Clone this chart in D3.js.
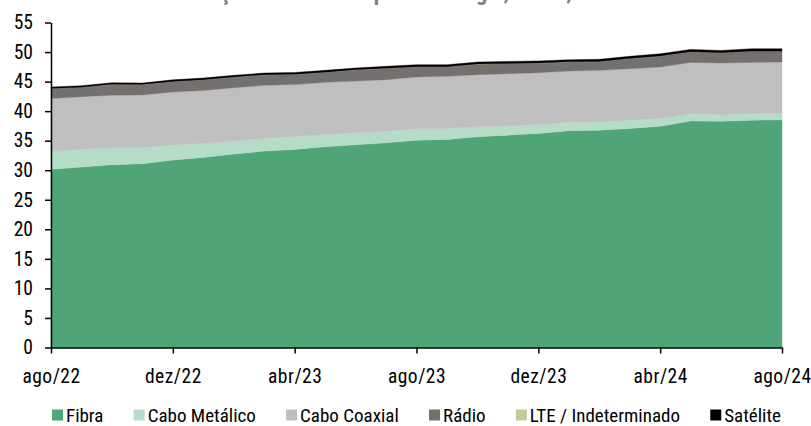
<!DOCTYPE html>
<html>
<head>
<meta charset="utf-8">
<script src="https://cdn.jsdelivr.net/npm/d3@7"></script>
<style>
  html, body { margin: 0; padding: 0; background: #fff; }
  svg { display: block; }
  text { font-family: "Roboto Condensed", "Liberation Sans Narrow", "DejaVu Sans Condensed", "Noto Sans", sans-serif; }
</style>
</head>
<body>
<svg id="chart" width="811" height="426"></svg>
<script>
const titleText = "Evolução dos acessos por tecnologia, Brasil, milhões";
const months = ["ago/22","set/22","out/22","nov/22","dez/22","jan/23","fev/23","mar/23","abr/23","mai/23","jun/23","jul/23","ago/23","set/23","out/23","nov/23","dez/23","jan/24","fev/24","mar/24","abr/24","mai/24","jun/24","jul/24","ago/24"];
const tickLabels = ["ago/22","dez/22","abr/23","ago/23","dez/23","abr/24","ago/24"];
const yTicks = [0,5,10,15,20,25,30,35,40,45,50,55];
const seriesNames = ["Fibra","Cabo Metálico","Cabo Coaxial","Rádio","LTE / Indeterminado","Satélite"];
const seriesColors = ["#4fa578","#b5dcc7","#bfbfbf","#757070","#c4c89b","#000000"];

const fibra    = [30.15,30.54,30.93,31.10,31.72,32.17,32.73,33.24,33.52,33.96,34.30,34.64,35.09,35.20,35.65,35.94,36.22,36.67,36.78,37.06,37.46,38.35,38.30,38.47,38.52];
const metalico = [3.05,3.03,2.87,2.75,2.53,2.36,2.20,2.19,2.18,2.09,2.03,1.97,1.91,1.86,1.69,1.57,1.51,1.46,1.35,1.41,1.29,1.25,1.07,1.13,1.13];
const coaxial  = [8.93,8.88,8.90,8.90,9.00,8.97,9.04,8.94,8.80,8.83,8.77,8.72,8.78,8.83,8.83,8.83,8.77,8.67,8.77,8.71,8.71,8.65,8.77,8.65,8.66];
const radio    = [1.70,1.58,1.82,1.72,1.76,1.80,1.79,1.77,1.73,1.70,1.87,1.91,1.73,1.62,1.77,1.71,1.63,1.52,1.48,1.70,1.85,1.79,1.72,1.88,1.81];
const lte      = [0.02,0.02,0.02,0.02,0.02,0.02,0.02,0.02,0.02,0.02,0.02,0.02,0.02,0.02,0.02,0.02,0.02,0.02,0.02,0.02,0.02,0.02,0.02,0.02,0.02];
const satelite = [0.25,0.25,0.26,0.26,0.27,0.28,0.28,0.29,0.30,0.30,0.31,0.32,0.33,0.33,0.34,0.35,0.35,0.36,0.36,0.37,0.38,0.39,0.40,0.41,0.42];

const seriesValues = [fibra, metalico, coaxial, radio, lte, satelite];
const table = months.map((m, i) => {
  const row = { month: m };
  seriesNames.forEach((s, k) => row[s] = seriesValues[k][i]);
  return row;
});

const svg = d3.select("#chart");
const x = d3.scalePoint().domain(months).range([51, 782]);
const y = d3.scaleLinear().domain([0, 55]).range([347.5, 22.5]);

const stack = d3.stack().keys(seriesNames);
const layers = stack(table);
const area = d3.area()
  .x(d => x(d.data.month))
  .y0(d => y(d[0]))
  .y1(d => y(d[1]));

svg.append("g").selectAll("path")
  .data(layers)
  .join("path")
  .attr("d", area)
  .attr("fill", (d, i) => seriesColors[i])
  .attr("stroke", (d, i) => seriesColors[i])
  .attr("stroke-width", 0.4);

const labelFont = "19.5px";
const labelSpacing = "0.5px";

// Y axis
const yAxis = d3.axisLeft(y).tickValues(yTicks).tickSize(6).tickSizeOuter(0).tickPadding(12);
const gy = svg.append("g").attr("transform", "translate(51,0)").call(yAxis);
gy.select(".domain").attr("stroke", "#000").attr("stroke-width", 1.5);
gy.selectAll(".tick line").attr("stroke", "#000").attr("stroke-width", 1.5);
gy.selectAll(".tick text").attr("fill", "#000").style("font-size", labelFont);

// X axis
const xAxis = d3.axisBottom(x).tickValues(tickLabels).tickSize(6).tickSizeOuter(0).tickPadding(16);
const gx = svg.append("g").attr("transform", "translate(0,347.5)").call(xAxis);
gx.select(".domain").attr("stroke", "#000").attr("stroke-width", 1.5);
gx.selectAll(".tick line").attr("stroke", "#000").attr("stroke-width", 1.5);
gx.selectAll(".tick text").attr("fill", "#000").style("font-size", labelFont).style("letter-spacing", labelSpacing);

// Title (clipped at the top in the reference)
const title = svg.append("text")
  .attr("x", 0).attr("y", 0)
  .attr("fill", "#7f7f7f")
  .style("font-size", "22.5px")
  .style("font-weight", "bold")
  .text(titleText);
const cIdx = titleText.indexOf("ç");
const cPos = title.node().getStartPositionOfChar(cIdx).x;
title.attr("x", 220 - cPos);

// Legend: laid out in one row between x=52 and x=781
const lg = svg.append("g").attr("transform", "translate(0,415)");
const items = seriesNames.map((s, i) => {
  const g = lg.append("g");
  g.append("rect").attr("x", 0).attr("y", -5.5).attr("width", 11).attr("height", 11).attr("fill", seriesColors[i]);
  const t = g.append("text").attr("x", 14).attr("y", 7).attr("fill", "#000")
    .style("font-size", "19px").text(s);
  return { g, w: 14 + t.node().getComputedTextLength() };
});
const totalW = d3.sum(items, d => d.w);
const gap = (781 - 52 - totalW) / (items.length - 1);
let cx = 52;
items.forEach(it => { it.g.attr("transform", `translate(${cx},0)`); cx += it.w + gap; });
</script>
</body>
</html>
